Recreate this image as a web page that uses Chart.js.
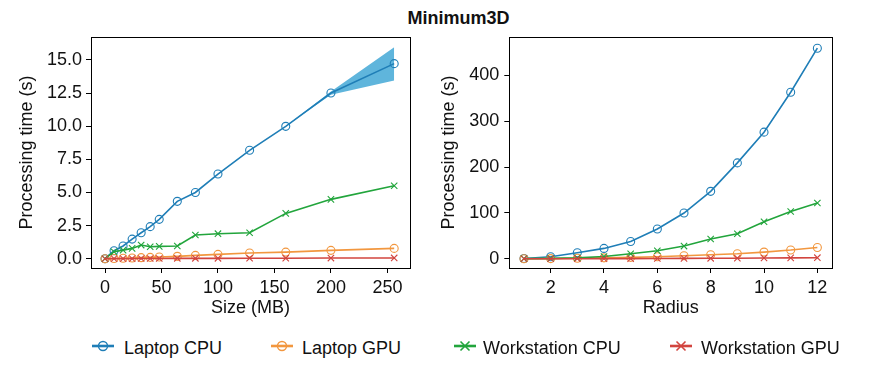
<!DOCTYPE html>
<html>
<head>
<meta charset="utf-8">
<script src="https://cdn.jsdelivr.net/npm/chart.js@4/dist/chart.umd.min.js"></script>
<style>
  html, body { margin:0; padding:0; background:#fff; }
  body { width:882px; height:381px; position:relative; overflow:hidden; font-family:"Liberation Sans", Arial, sans-serif; }
  #title { position:absolute; left:458.5px; top:8.8px; transform:translateX(-50%); font-size:18px; line-height:18px; font-weight:bold; color:#111; white-space:nowrap; }
  .cv { position:absolute; top:0; }
  .leg { position:absolute; top:338.8px; font-size:18px; line-height:18px; color:#111; white-space:nowrap; }
  .legsym { position:absolute; top:337px; }
</style>
</head>
<body>
<div id="title">Minimum3D</div>
<div class="cv" style="left:0;width:441px;height:330px;"><canvas id="c1"></canvas></div>
<div class="cv" style="left:430px;width:452px;height:330px;"><canvas id="c2"></canvas></div>
<div id="legend"></div>
<script>
// ---------- data ----------
const chartTitle = "Minimum3D";
const seriesNames = ["Laptop CPU", "Laptop GPU", "Workstation CPU", "Workstation GPU"];

const sizeMB = [0, 8, 16, 24, 32, 40, 48, 64, 80, 100, 128, 160, 200, 256];
const laptopCpuSize      = [0.0, 0.60, 0.96, 1.48, 1.96, 2.42, 2.97, 4.33, 5.00, 6.39, 8.18, 9.99, 12.50, 14.72];
const laptopCpuSizeLow   = [0.0, 0.60, 0.96, 1.48, 1.96, 2.42, 2.97, 4.33, 5.00, 6.39, 8.18, 9.99, 12.38, 13.45];
const laptopCpuSizeHigh  = [0.0, 0.60, 0.96, 1.48, 1.96, 2.42, 2.97, 4.33, 5.00, 6.39, 8.18, 9.99, 12.62, 15.95];
const laptopGpuSize      = [0.0, 0.02, 0.04, 0.06, 0.08, 0.10, 0.13, 0.18, 0.25, 0.33, 0.43, 0.50, 0.63, 0.78];
const workstationCpuSize = [0.0, 0.53, 0.65, 0.78, 1.03, 0.90, 0.93, 0.96, 1.79, 1.89, 1.96, 3.42, 4.48, 5.51];
const workstationGpuSize = [0.0, 0.01, 0.01, 0.01, 0.02, 0.02, 0.02, 0.03, 0.03, 0.03, 0.04, 0.04, 0.05, 0.06];

const radius = [1, 2, 3, 4, 5, 6, 7, 8, 9, 10, 11, 12];
const laptopCpuRadius      = [0.5, 4.4, 13, 22.6, 37.8, 64.8, 99.7, 147, 209, 276, 363, 459];
const laptopGpuRadius      = [0.1, 0.3, 1.0, 2.0, 3.0, 4.4, 6.5, 8.7, 11, 14.6, 19, 24.7];
const workstationCpuRadius = [0.3, 0.9, 2.0, 5.0, 11, 17.5, 27.7, 43, 54.6, 80.8, 103, 121.5];
const workstationGpuRadius = [0.05, 0.1, 0.2, 0.3, 0.4, 0.6, 0.8, 1.0, 1.3, 1.6, 2.0, 2.4];

const sizeXTicks = [0, 50, 100, 150, 200, 250];
const sizeYTicks = [0, 2.5, 5, 7.5, 10, 12.5, 15];
const sizeYTickLabels = ["0.0", "2.5", "5.0", "7.5", "10.0", "12.5", "15.0"];
const radiusXTicks = [2, 4, 6, 8, 10, 12];
const radiusYTicks = [0, 100, 200, 300, 400];
const radiusYTickLabels = ["0", "100", "200", "300", "400"];

const xTitleSize = "Size (MB)";
const xTitleRadius = "Radius";
const yTitle = "Processing time (s)";

// ---------- styles ----------
const colors = ["#1f7eb7", "#f2973f", "#22a53c", "#d2453f"];
const bandColor = "#5fb5dc";
const markers = ["circle", "circle", "crossRot", "crossRot"];
const FONT = '"Liberation Sans", Arial, sans-serif';
Chart.defaults.font.family = FONT;
Chart.defaults.font.size = 18;
Chart.defaults.color = "#111";

const framePlugin = {
  id: "frame",
  afterDraw(chart) {
    const a = chart.chartArea, ctx = chart.ctx;
    ctx.save();
    ctx.strokeStyle = "#000";
    ctx.lineWidth = 1;
    ctx.strokeRect(Math.round(a.left) + 0.5, Math.round(a.top) + 0.5,
                   Math.round(a.right - a.left), Math.round(a.bottom - a.top));
    ctx.restore();
  }
};

function pts(xs, ys) { return xs.map((x, i) => ({x: x, y: ys[i]})); }

function series(i, xs, ys) {
  return {
    label: seriesNames[i],
    data: pts(xs, ys),
    borderColor: colors[i],
    backgroundColor: "rgba(0,0,0,0)",
    borderWidth: 1.6,
    pointStyle: markers[i],
    pointRadius: markers[i] === "circle" ? 4 : 4.5,
    pointBorderWidth: 1.1,
    pointBorderColor: colors[i],
    pointBackgroundColor: "rgba(0,0,0,0)",
    order: 3 - i,
    fill: false,
    tension: 0
  };
}

function makeChart(id, datasets, cfg) {
  return new Chart(document.getElementById(id), {
    type: "line",
    data: { datasets: datasets },
    options: {
      responsive: true,
      maintainAspectRatio: false,
      animation: false,
      events: [],
      layout: { padding: { left: 0, top: 37, right: cfg.padRight, bottom: 11.2 } },
      plugins: { legend: { display: false }, tooltip: { enabled: false }, title: { display: false } },
      scales: {
        x: {
          type: "linear",
          min: cfg.xMin, max: cfg.xMax,
          afterBuildTicks: s => { s.ticks = cfg.xTicks.map(v => ({ value: v })); },
          afterFit: s => { s.height = 50.8; },
          ticks: { padding: 4, maxRotation: 0, autoSkip: false, callback: v => String(v) },
          grid: { display: true, drawOnChartArea: false, drawTicks: true, tickLength: 5, tickColor: "#000", lineWidth: 1 },
          border: { display: false },
          title: { display: true, text: cfg.xTitle, padding: { top: 0, bottom: 0 }, font: { size: 18 } }
        },
        y: {
          type: "linear",
          min: cfg.yMin, max: cfg.yMax,
          afterBuildTicks: s => { s.ticks = cfg.yTicks.map(v => ({ value: v })); },
          afterFit: s => { s.width = cfg.yWidth; },
          ticks: { padding: cfg.yPad, autoSkip: false, callback: v => cfg.yLabels[cfg.yTicks.indexOf(v)] },
          grid: { display: true, drawOnChartArea: false, drawTicks: true, tickLength: 5, tickColor: "#000", lineWidth: 1 },
          border: { display: false },
          title: { display: true, text: yTitle, padding: { top: cfg.yTitlePad, bottom: 0 }, font: { size: 18 } }
        }
      }
    },
    plugins: [framePlugin]
  });
}

// left chart
const leftSets = [
  series(0, sizeMB, laptopCpuSize),
  series(1, sizeMB, laptopGpuSize),
  series(2, sizeMB, workstationCpuSize),
  series(3, sizeMB, workstationGpuSize),
  { label: "low", data: pts(sizeMB, laptopCpuSizeLow), borderWidth: 0, pointRadius: 0, fill: false, order: 10, borderColor: "rgba(0,0,0,0)" },
  { label: "high", data: pts(sizeMB, laptopCpuSizeHigh), borderWidth: 0, pointRadius: 0, fill: 4, backgroundColor: bandColor, order: 9, borderColor: "rgba(0,0,0,0)" }
];
makeChart("c1", leftSets, {
  padRight: 31, xMin: -12.4, xMax: 270, xTicks: sizeXTicks, xTitle: xTitleSize,
  yMin: -0.70, yMax: 16.73, yTicks: sizeYTicks, yLabels: sizeYTickLabels,
  yWidth: 91, yPad: 4, yTitlePad: 16
});

// right chart
const rightSets = [
  series(0, radius, laptopCpuRadius),
  series(1, radius, laptopGpuRadius),
  series(2, radius, workstationCpuRadius),
  series(3, radius, workstationGpuRadius)
];
makeChart("c2", rightSets, {
  padRight: 49.7, xMin: 0.45, xMax: 12.56, xTicks: radiusXTicks, xTitle: xTitleRadius,
  yMin: -20.1, yMax: 483.4, yTicks: radiusYTicks, yLabels: radiusYTickLabels,
  yWidth: 79.3, yPad: 5, yTitlePad: 8.2
});

// legend
const legLineX = [92, 271, 454, 670];
const legTextX = [124, 302, 483, 701];
const legend = document.getElementById("legend");
seriesNames.forEach((name, i) => {
  const c = colors[i];
  const mk = markers[i] === "circle"
    ? `<circle cx="11" cy="9" r="4.5" fill="none" stroke="${c}" stroke-width="1.4"/>`
    : `<path d="M6.5 4.5 L15.5 13.5 M15.5 4.5 L6.5 13.5" stroke="${c}" stroke-width="1.6"/>`;
  const sym = document.createElement("div");
  sym.className = "legsym";
  sym.style.left = legLineX[i] + "px";
  sym.innerHTML = `<svg width="22" height="18"><line x1="0" y1="9" x2="22" y2="9" stroke="${c}" stroke-width="2.6"/>${mk}</svg>`;
  legend.appendChild(sym);
  const t = document.createElement("div");
  t.className = "leg";
  t.style.left = legTextX[i] + "px";
  t.textContent = name;
  legend.appendChild(t);
});
document.getElementById("title").textContent = chartTitle;
</script>
</body>
</html>
